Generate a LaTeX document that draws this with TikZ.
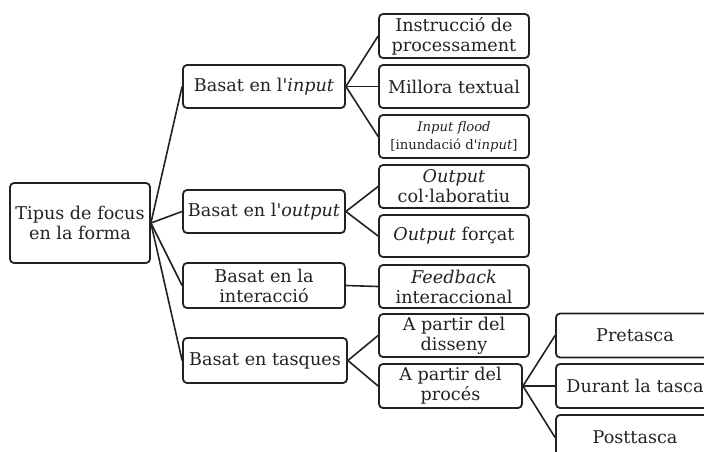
\documentclass[tikz,border=0pt]{standalone}
\usepackage{fontspec}
\setmainfont{DejaVu Serif}[Ligatures=TeXOff]
\usetikzlibrary{positioning}
\definecolor{cInk}{HTML}{222222}
\tikzset{
  box/.style ={draw=cInk,line width=1.8pt,rounded corners=4pt,align=center,inner sep=0pt,
               text=cInk,font=\fontsize{17.6}{20}\selectfont},
  rootbox/.style={box,minimum width=140pt,minimum height=80pt},
  onebox/.style ={box,minimum width=162pt,minimum height=43pt},
  twobox/.style ={box,minimum width=150pt,minimum height=43pt},
  threebox/.style={box,minimum width=158pt,minimum height=44pt},
  ln/.style ={draw=cInk,line width=1.6pt},
  tiny/.style={font=\fontsize{13.2}{18}\selectfont},
}

\begin{document}
\begin{tikzpicture}[x=1pt,y=-1pt]
\clip (0,0) rectangle (704,452);
% root
\node[rootbox] (root) at (80,223) {Tipus de focus\\en la forma};
% first level
\node[onebox] (inp) at (264,86.5)  {Basat en l'\textit{input}};
\node[onebox] (out) at (264,211.5) {Basat en l'\textit{output}};
\node[onebox,minimum height=45pt] (int) at (264,285.5) {Basat en la\\interacció};
\node[onebox,minimum width=164pt,minimum height=45pt] (tas) at (265,360.5) {Basat en tasques};
% second level
\node[twobox,minimum height=44pt] (ins) at (454,36) {Instrucció de\\processament};
\node[twobox] (mil) at (454,86.5)  {Millora textual};
\node[twobox,tiny] (flo) at (454,136.5) {\textit{Input flood}\\{}[inundació d'\textit{input}]};
\node[twobox] (col) at (454,186.5) {\textit{Output}\\col·laboratiu};
\node[twobox,minimum height=42pt] (for) at (454,236) {\textit{Output} forçat};
\node[twobox] (fee) at (454,286.5) {\textit{Feedback}\\interaccional};
\node[twobox] (dis) at (454,335.5) {A partir del\\disseny};
\node[twobox,minimum width=143pt,minimum height=44pt] (pro) at (450.5,386) {A partir del\\procés};
% third level
\node[threebox] (pre) at (635,335.5) {Pretasca};
\node[threebox] (dur) at (635,386)   {Durant la tasca};
\node[threebox,minimum height=45pt] (pos) at (635,437.5) {Posttasca};
% connectors
\foreach \c in {inp,out,int,tas} \draw[ln] (root.east) -- (\c.west);
\foreach \c in {ins,mil,flo} \draw[ln] (inp.east) -- (\c.west);
\foreach \c in {col,for} \draw[ln] (out.east) -- (\c.west);
\draw[ln] (int.east) -- (fee.west);
\foreach \c in {dis,pro} \draw[ln] (tas.east) -- (\c.west);
\foreach \c in {pre,dur,pos} \draw[ln] (pro.east) -- (\c.west);
\end{tikzpicture}
\end{document}
